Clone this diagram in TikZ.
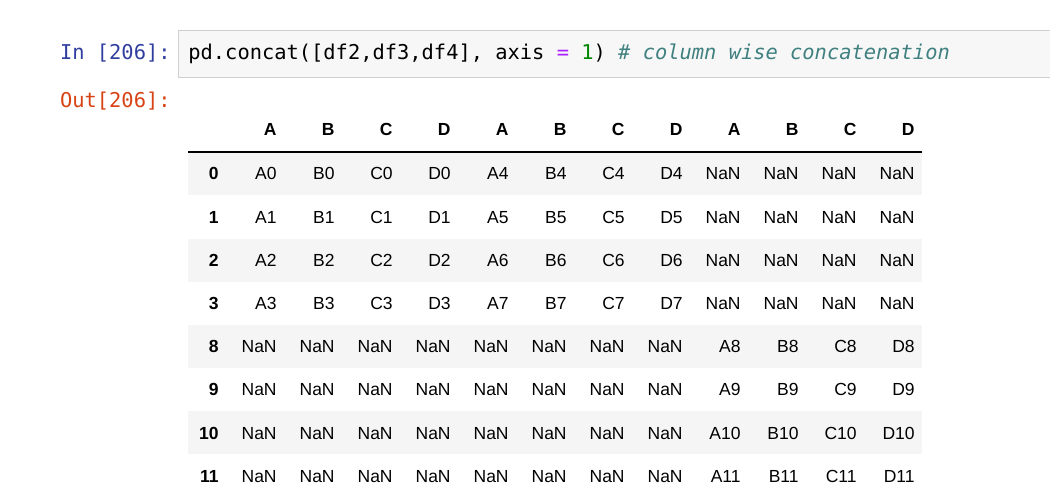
\documentclass[tikz,border=0pt]{standalone}
\usepackage{fontspec}
\setmainfont{Liberation Sans}
\newfontfamily\codefont{DejaVu Sans Mono}
\definecolor{promptin}{HTML}{303F9F}
\definecolor{promptout}{HTML}{D84315}
\definecolor{cellbg}{HTML}{F7F7F7}
\definecolor{cellline}{HTML}{CFCFCF}
\definecolor{stripe}{HTML}{F5F5F5}
\definecolor{opcol}{HTML}{AA22FF}
\definecolor{numcol}{HTML}{008800}
\definecolor{commcol}{HTML}{408080}
\tikzset{every picture/.style={line width=0.75pt},
	prompt/.style={anchor=base east, inner sep=0pt, font=\codefont\fontsize{20.4}{24}\selectfont},
	cell/.style={anchor=base east, inner sep=0pt, font=\fontsize{17.5}{20}\selectfont},
	head/.style={cell, font=\fontsize{17.5}{20}\selectfont\bfseries}}
\begin{document}
\begin{tikzpicture}[x=1pt,y=-1pt]
	\useasboundingbox (0,0) rectangle (1050,502);
	% input cell
	\draw[cellline, fill=cellbg] (178,30) rectangle (1062,77);
	\node[prompt, text=promptin] (inp) at (171,60) {In [206]:};
	\node[prompt, anchor=base west] (code) at (188,60) {pd.concat([df2,df3,df4], axis \textcolor{opcol}{=} \textcolor{numcol}{1}) \textcolor{commcol}{\itshape\# column wise concatenation}};
	\node[prompt, text=promptout] (outp) at (171,108) {Out[206]:};
	% striped rows
	\foreach \y in {152,239,325,411}
		\fill[stripe] (188,\y) rectangle (922,\y+43);
	\draw[line width=1.5pt] (188,152) -- (922,152);
	% header
	\foreach \h [count=\c] in {A,B,C,D,A,B,C,D,A,B,C,D}
		\node[head] (h-\c) at (219+58*\c,136) {\h};
	% body
	\foreach \r [count=\k] in {0,1,2,3,8,9,10,11} {
		\pgfmathsetmacro{\y}{180+43.2*(\k-1)}
		\node[head] (i-\k) at (219,\y) {\r};
		\ifnum\k<5
			\pgfmathtruncatemacro{\s}{\r+4}
			\foreach \l [count=\c] in {A,B,C,D} {
				\node[cell] (v-\k-\c) at (219+58*\c,\y) {\l\r};
				\node[cell] (w-\k-\c) at (451+58*\c,\y) {\l\s};
				\node[cell] (n-\k-\c) at (683+58*\c,\y) {NaN};
			}
		\else
			\foreach \c in {1,...,8}
				\node[cell] (n-\k-\c) at (219+58*\c,\y) {NaN};
			\foreach \l [count=\c] in {A,B,C,D}
				\node[cell] (v-\k-\c) at (683+58*\c,\y) {\l\r};
		\fi
	}
\end{tikzpicture}
\end{document}
